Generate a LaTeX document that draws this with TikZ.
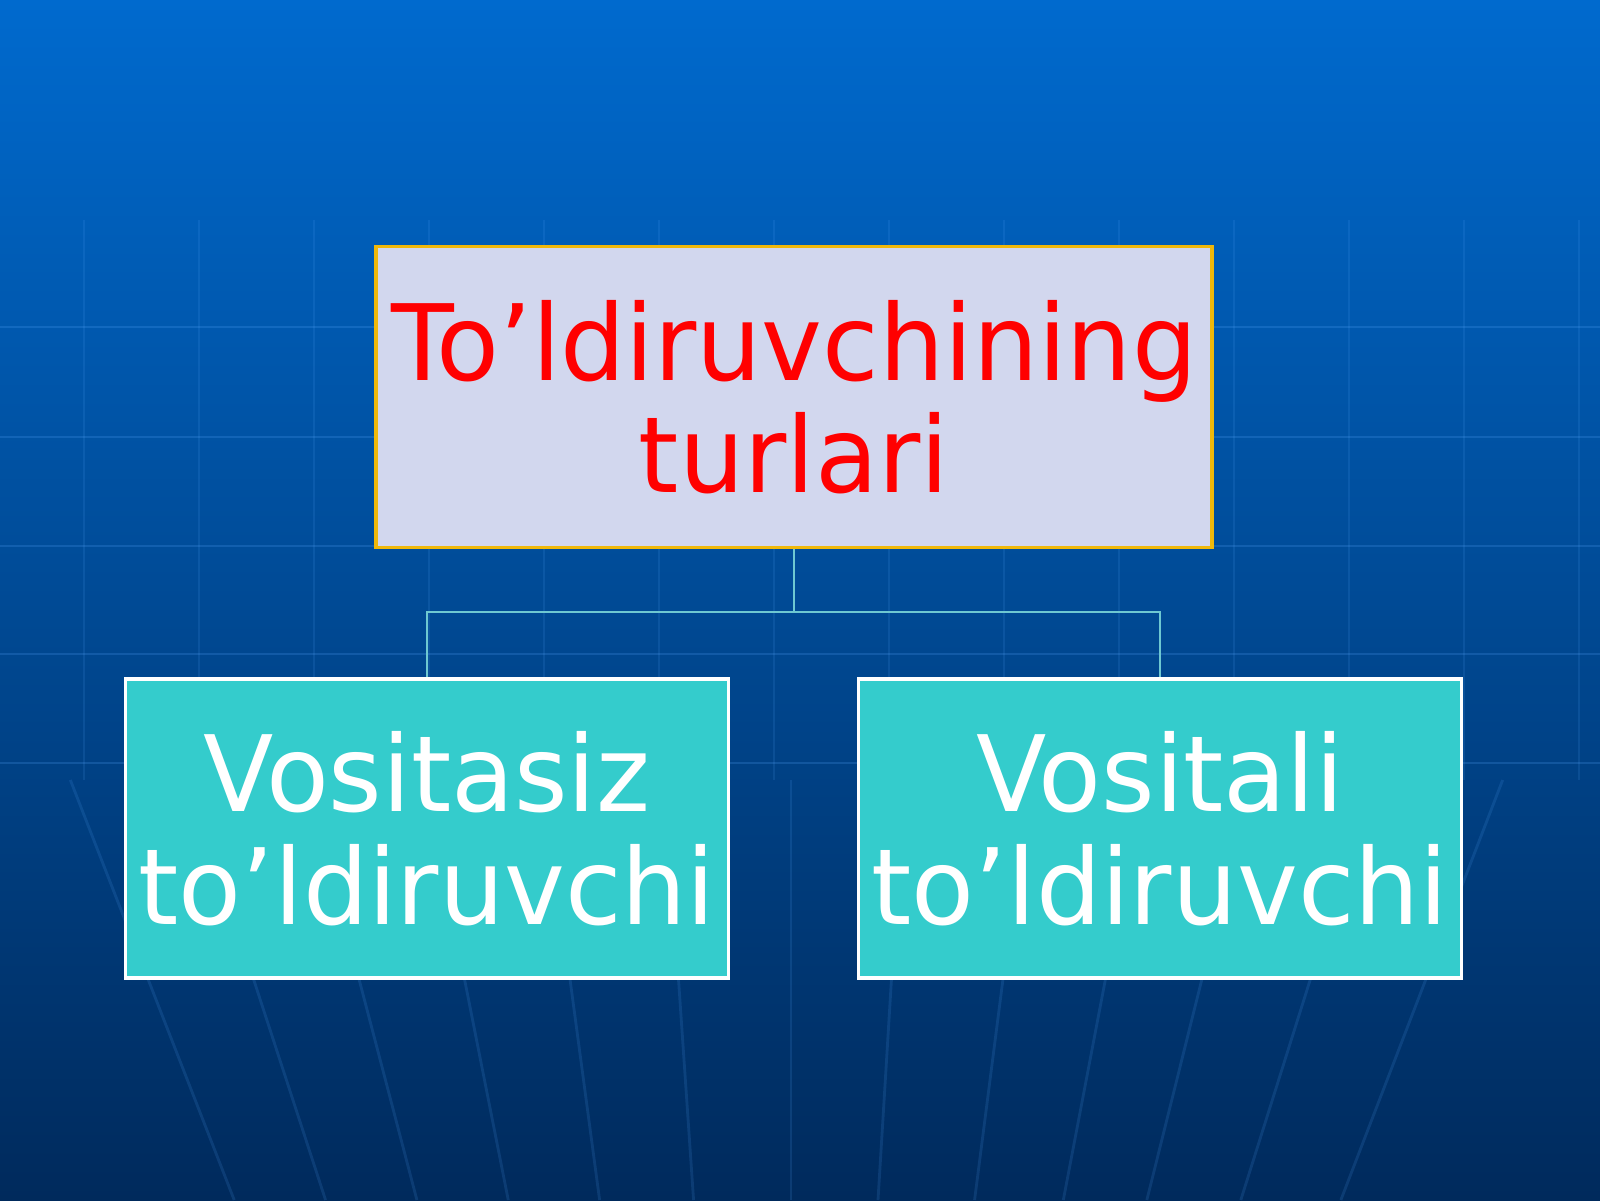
\documentclass[tikz,border=0pt]{standalone}
\usepackage{fontspec}
\setmainfont{DejaVu Sans}[FakeStretch=0.975]
\usetikzlibrary{positioning}
\definecolor{BG_TOP}{RGB}{0,106,206}
\definecolor{BG_MID}{RGB}{0,74,156}
\definecolor{BG_BOT}{RGB}{0,42,92}
\definecolor{GRID_COLOR}{RGB}{90,170,255}
\definecolor{HEAD_FILL}{RGB}{210,215,238}
\definecolor{HEAD_LINE}{RGB}{240,184,10}
\definecolor{HEAD_TEXT}{RGB}{255,0,0}
\definecolor{KIND_FILL}{RGB}{52,204,204}
\definecolor{LINK_COLOR}{RGB}{110,200,210}
\tikzstyle{box}=[rectangle, line width=1pt, inner sep=0pt, align=center, font=\fontsize{30}{32}\selectfont]
\tikzstyle{HEAD_BOX}=[box, draw=HEAD_LINE, fill=HEAD_FILL, text=HEAD_TEXT, minimum width=8.36cm, minimum height=3.01cm]
\tikzstyle{KIND_BOX}=[box, draw=white, fill=KIND_FILL, text=white, minimum width=6.03cm, minimum height=2.99cm]
\tikzstyle{link}=[draw=LINK_COLOR, line width=0.7pt]
\tikzstyle{grid_line}=[draw=GRID_COLOR, line width=0.8pt, opacity=0.2]
\begin{document}
\begin{tikzpicture}

      %%%%%%%%%%%%%%%%%%%%%%%%%%%%%%%%%%%%%%%%%%
      % BACKGROUND
      %%%%%%%%%%%%%%%%%%%%%%%%%%%%%%%%%%%%%%%%%%%
      \useasboundingbox (0,0) rectangle (16,12);
      \shade[top color=BG_TOP, middle color=BG_MID, bottom color=BG_BOT] (0,0) rectangle (16,12);
      \foreach \y in {8.73,7.63,6.54,5.46,4.37}
        \draw[grid_line] (0,\y) -- (16,\y);
      \foreach \x in {0.84,1.99,3.14,4.29,5.44,6.59,7.74,8.89,10.04,11.19,12.34,13.49,14.64,15.79}
        \draw[grid_line, opacity=0.13] (\x,9.8) -- (\x,4.2);
      \foreach \d in {-6.4,-5.35,-4.3,-3.25,-2.2,-1.12,0,1.0,2.11,3.13,4.09,5.17,6.32}
        \draw[grid_line, opacity=0.14] ({7.91+\d*1.126},4.2) -- ({7.91+\d*0.87},0);

      %%%%%%%%%%%%%%%%%%%%%%%%%%%%%%%%%%%%%%%%%%
      % BOXES
      %%%%%%%%%%%%%%%%%%%%%%%%%%%%%%%%%%%%%%%%%%%
      \node[HEAD_BOX] (TURLAR) at (7.94,8.03) {To’ldiruvchining\\turlari};
      \node[KIND_BOX, below=1.28cm of TURLAR.south, xshift=-3.67cm] (VSZ) {Vositasiz\\to’ldiruvchi};
      \node[KIND_BOX, below=1.28cm of TURLAR.south, xshift=3.66cm] (VSL) {Vositali\\to’ldiruvchi};

      \coordinate[below=0.625cm of TURLAR.south] (SPLIT);
      \path[link] (TURLAR.south) -- (SPLIT) -| (VSZ.north);
      \path[link] (SPLIT) -| (VSL.north);

\end{tikzpicture}
\end{document}
